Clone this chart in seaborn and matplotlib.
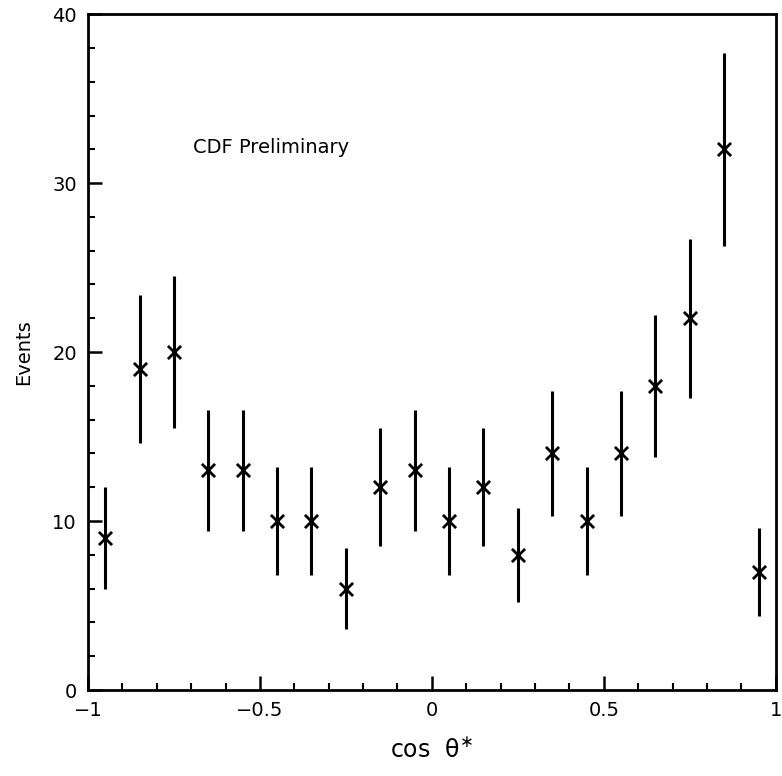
import numpy as np
import pandas as pd
import matplotlib
matplotlib.use("Agg")
import matplotlib.pyplot as plt
import seaborn as sns
from matplotlib.ticker import MultipleLocator

cos_theta = [-0.95, -0.85, -0.75, -0.65, -0.55, -0.45, -0.35, -0.25, -0.15, -0.05,
             0.05, 0.15, 0.25, 0.35, 0.45, 0.55, 0.65, 0.75, 0.85, 0.95]
events = [9, 19, 20, 13, 13, 10, 10, 6, 12, 13,
          10, 12, 8, 14, 10, 14, 18, 22, 32, 7]
errors = [3.0, 4.4, 4.5, 3.6, 3.6, 3.2, 3.2, 2.4, 3.5, 3.6,
          3.2, 3.5, 2.8, 3.7, 3.2, 3.7, 4.2, 4.7, 5.7, 2.6]
x_ticks = [-1, -0.5, 0, 0.5, 1]
x_tick_labels = ["\u22121", "\u22120.5", "0", "0.5", "1"]
y_ticks = [0, 10, 20, 30, 40]

df = pd.DataFrame({"cos": cos_theta, "events": events, "err": errors})

sns.set_style("white")
plt.rcParams['font.family'] = ['DejaVu Sans']
plt.rcParams['text.color'] = 'black'
plt.rcParams['axes.labelcolor'] = 'black'

fig = plt.figure(figsize=(7.82, 7.76), dpi=100)
ax = fig.add_axes([0.1125, 0.1108, 0.8795, 0.871])

ax.errorbar(df["cos"], df["events"], yerr=df["err"], fmt="none",
            ecolor="black", elinewidth=2.2, capsize=0)
sns.scatterplot(data=df, x="cos", y="events", marker="x", color="black",
                s=90, linewidth=2.0, ax=ax, zorder=3)

ax.set_xlim(-1, 1)
ax.set_ylim(0, 40)
ax.set_xticks(x_ticks)
ax.set_xticklabels(x_tick_labels)
ax.set_yticks(y_ticks)
ax.xaxis.set_minor_locator(MultipleLocator(0.1))
ax.yaxis.set_minor_locator(MultipleLocator(2))
ax.tick_params(which="both", bottom=True, left=True, top=False, right=False)
ax.tick_params(which="major", direction="in", length=10, width=1.8,
               labelsize=14, pad=8, colors="black")
ax.tick_params(which="minor", direction="in", length=5, width=1.5,
               colors="black")
for s in ax.spines.values():
    s.set_visible(True)
    s.set_color("black")
    s.set_linewidth(2.0)

ax.set_xlabel("cos  \u03b8$^{\\ast}$", fontsize=17, labelpad=12, color="black")
ax.set_ylabel("Events", fontsize=14, labelpad=14, color="black")
ax.text(-0.695, 32.1, "CDF Preliminary", fontsize=14, ha="left", va="center",
        color="black")

fig.savefig("out.png", dpi=100, facecolor="white")
